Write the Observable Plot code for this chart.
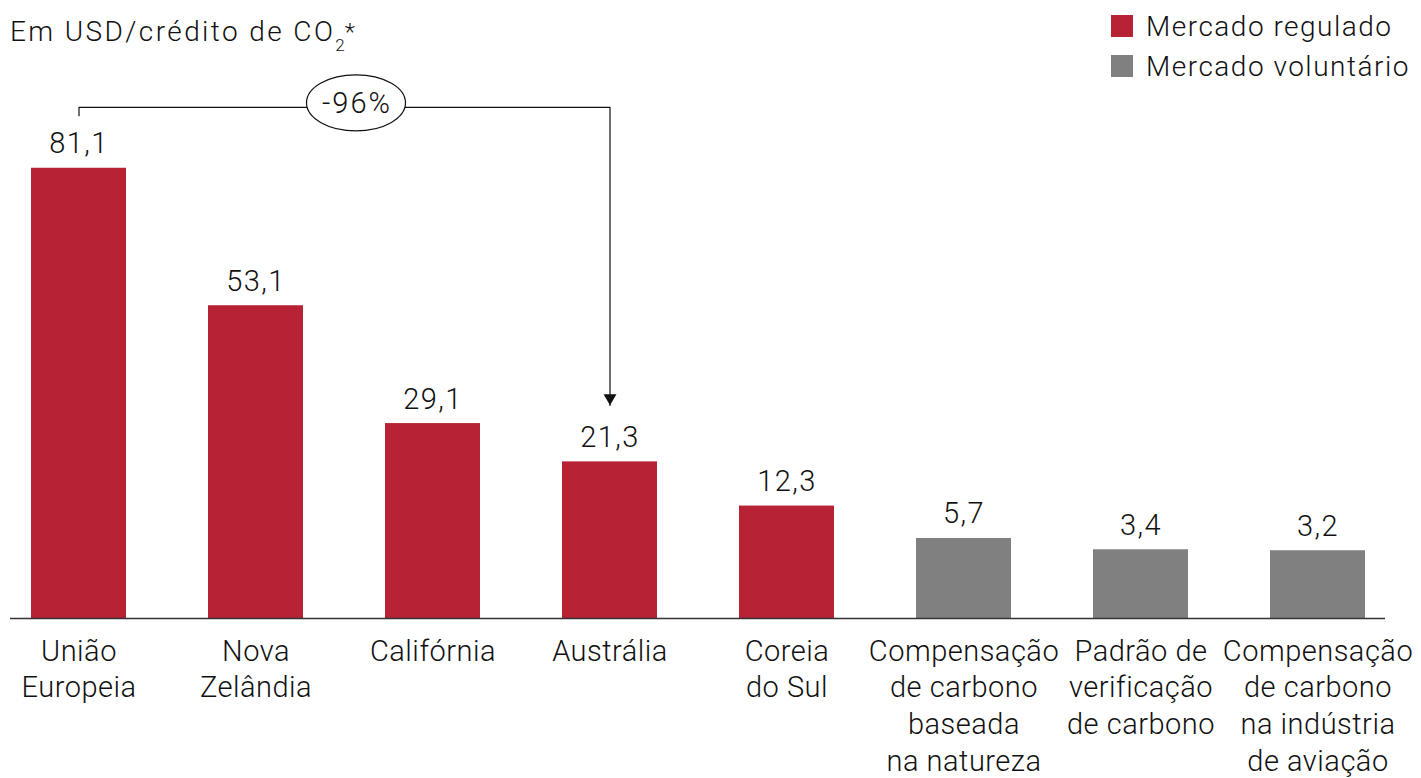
<!DOCTYPE html>
<html lang="pt">
<head>
<meta charset="utf-8">
<script src="https://cdn.jsdelivr.net/npm/d3@7"></script>
<script src="https://cdn.jsdelivr.net/npm/@observablehq/plot@0.6"></script>
<style>
  html, body { margin: 0; padding: 0; background: #fff; }
  #chart {
    position: relative; width: 1421px; height: 778px;
    font-family: Roboto, "Liberation Sans", sans-serif; font-weight: 300; color: #111;
  }
  #chart svg { position: absolute; left: 0; top: 0; }
  .title {
    position: absolute; left: 10px; top: 18px; font-size: 28px; line-height: 1;
    letter-spacing: 2.4px; white-space: nowrap; z-index: 2;
  }
  .title sub { font-size: 17px; vertical-align: -10px; line-height: 0; letter-spacing: 0; }
  .title sup { font-size: 24px; vertical-align: 1px; line-height: 0; letter-spacing: 0; }
  .legend { position: absolute; left: 1111px; top: 6px; z-index: 2; }
  .legend-item {
    display: flex; align-items: center; height: 40px; font-size: 28px;
    letter-spacing: 1.5px; white-space: nowrap;
  }
  .legend-swatch { width: 22px; height: 22px; margin-right: 13px; flex: none; }
</style>
</head>
<body>
<div id="chart">
  <div class="title">Em USD/crédito de CO<sub>2</sub><sup>*</sup></div>
  <div class="legend" id="legend"></div>
</div>
<script>
// Preço médio do crédito de carbono por mercado (USD por crédito de CO2)
const categories = [
  "União Europeia", "Nova Zelândia", "Califórnia", "Austrália", "Coreia do Sul",
  "Compensação de carbono baseada na natureza",
  "Padrão de verificação de carbono",
  "Compensação de carbono na indústria de aviação"
];
const tickLabels = [
  "União\nEuropeia", "Nova\nZelândia", "Califórnia", "Austrália", "Coreia\ndo Sul",
  "Compensação\nde carbono\nbaseada\nna natureza",
  "Padrão de\nverificação\nde carbono",
  "Compensação\nde carbono\nna indústria\nde aviação"
];
const prices = [81.1, 53.1, 29.1, 21.3, 12.3, 5.7, 3.4, 3.2];
const markets = [
  "Mercado regulado", "Mercado regulado", "Mercado regulado", "Mercado regulado", "Mercado regulado",
  "Mercado voluntário", "Mercado voluntário", "Mercado voluntário"
];
const marketNames = ["Mercado regulado", "Mercado voluntário"];
const marketColors = ["#b72235", "#808080"];
const changeLabel = "-96%";
const changeFrom = "União Europeia";
const changeTo = "Austrália";

const rows = categories.map((category, i) => ({
  category, label: tickLabels[i], price: prices[i], market: markets[i]
}));

// Bars rise from a floor set below zero, so the smallest prices stay legible.
const floor = -10.6;
const fmt = v => v.toFixed(1).replace(".", ",");

// Bracket from the first bar to the target bar, with the arrow stopping above its label.
const fromPrice = prices[categories.indexOf(changeFrom)];
const toPrice = prices[categories.indexOf(changeTo)];
const bracketLevel = fromPrice + 12.4;
const bracket = [
  {x: changeFrom, y: fromPrice + 10.7},
  {x: changeFrom, y: bracketLevel},
  {x: changeTo, y: bracketLevel},
  {x: changeTo, y: toPrice + 11.5}
];

const fontFamily = 'Roboto, "Liberation Sans", sans-serif';

const plot = Plot.plot({
  width: 1421,
  height: 778,
  marginTop: 100,
  marginBottom: 160,
  marginLeft: 10,
  marginRight: 36,
  x: {domain: categories, paddingInner: 0.4645, paddingOuter: 0.1085, axis: null},
  y: {domain: [floor, 94.9], axis: null},
  color: {domain: marketNames, range: marketColors},
  style: {
    fontFamily, fontWeight: 300, letterSpacing: "1.4px",
    background: "transparent", color: "#111", overflow: "visible"
  },
  marks: [
    Plot.barY(rows, {x: "category", y1: () => floor, y2: "price", fill: "market"}),
    Plot.ruleY([floor], {stroke: "#333", strokeWidth: 1.5}),
    Plot.text(rows, {
      x: "category", y: "price", text: d => fmt(d.price),
      lineAnchor: "bottom", dy: -15, fontSize: 29, fill: "#111"
    }),
    Plot.text(rows, {
      x: "category", y: () => floor, text: "label",
      lineAnchor: "top", dy: 16, lineHeight: 1.266, fontSize: 29, fill: "#111"
    }),
    Plot.line(bracket, {x: "x", y: "y", stroke: "#111", strokeWidth: 1.2}),
    Plot.dot(bracket.slice(-1), {
      x: "x", y: "y", symbol: "triangle", rotate: 180, r: 4.8, fill: "#111", dy: -7.5
    })
  ]
});

const chart = document.getElementById("chart");
chart.appendChild(plot);
const svg = d3.select(plot);

// Category names sit close together under the voluntary-market bars: tighter tracking.
svg.selectAll('g[aria-label="text"]').filter((d, i) => i === 1)
  .attr("letter-spacing", "0.5px").style("letter-spacing", "0.5px");

// Oval with the percentage change, centred on the bracket between the two bars.
const xs = plot.scale("x");
const ys = plot.scale("y");
const band = d3.scaleBand()
  .domain(xs.domain).range(xs.range)
  .paddingInner(xs.paddingInner).paddingOuter(xs.paddingOuter)
  .align(xs.align ?? 0.5).round(!!xs.round);
const yScale = d3.scaleLinear().domain(ys.domain).range(ys.range);
const cx = (band(changeFrom) + band(changeTo)) / 2 + band.bandwidth() / 2 + 12;
const cy = yScale(bracketLevel) - 4;
const badge = svg.append("g").attr("transform", `translate(${cx},${cy})`);
badge.append("ellipse").attr("rx", 49.5).attr("ry", 28)
  .attr("fill", "#fff").attr("stroke", "#111").attr("stroke-width", 1.2);
badge.append("text").text(changeLabel)
  .attr("text-anchor", "middle").attr("dy", "0.36em").attr("dx", 1)
  .attr("font-size", 29).attr("font-family", fontFamily).attr("font-weight", 300)
  .attr("letter-spacing", "2px").attr("fill", "#111");

// Legend
const legend = d3.select("#legend");
marketNames.forEach((name, i) => {
  const item = legend.append("div").attr("class", "legend-item");
  item.append("div").attr("class", "legend-swatch").style("background", marketColors[i]);
  item.append("span").text(name);
});
</script>
</body>
</html>
